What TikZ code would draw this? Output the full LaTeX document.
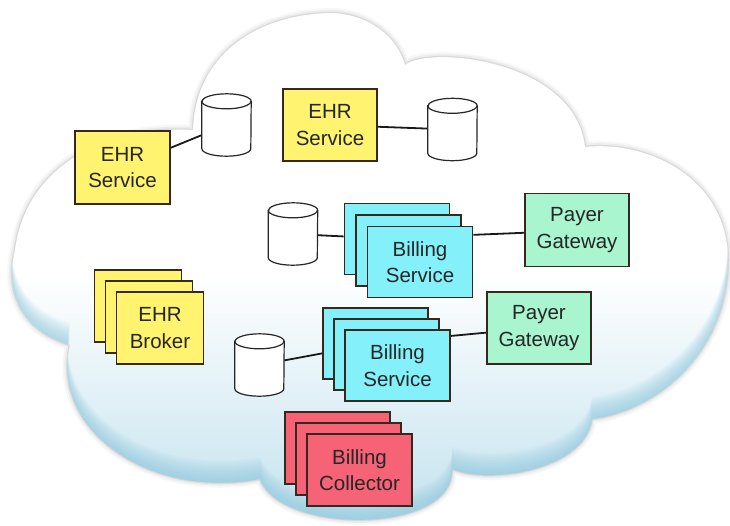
\documentclass[tikz,border=0pt]{standalone}
\usepackage{fontspec}
\setmainfont{Liberation Sans}
\definecolor{ehryellow}{RGB}{255,243,112}
\definecolor{billcyan}{RGB}{132,241,250}
\definecolor{payergreen}{RGB}{168,245,208}
\definecolor{collectred}{RGB}{246,98,118}
\definecolor{boxedge}{RGB}{55,40,30}
\definecolor{cloudblue}{RGB}{140,200,222}
\definecolor{cloudedge}{RGB}{110,110,110}

\newcommand{\cloudpath}{(70,345) .. controls (20,330) and (5,290) .. (15,250)
	.. controls (25,170) and (100,125) .. (193,130)
	.. controls (195,60) and (250,15) .. (330,13)
	.. controls (360,13) and (395,30) .. (405,65)
	.. controls (430,45) and (575,60) .. (585,147)
	.. controls (650,140) and (728,180) .. (728,260)
	.. controls (728,350) and (660,410) .. (592,419)
	.. controls (585,470) and (490,485) .. (452,469)
	.. controls (455,535) and (280,535) .. (260,479)
	.. controls (150,500) and (50,430) .. (70,345) -- cycle}

\tikzset{
	box/.style={draw=boxedge, line width=1.6, align=center, text=black!85,
		font=\fontsize{20.5}{26.5}\selectfont, inner sep=0},
	ehrbox/.style={box, fill=ehryellow, minimum width=95, minimum height=73},
	billbox/.style={box, fill=billcyan, minimum width=105, minimum height=71},
	paybox/.style={box, fill=payergreen, minimum width=104, minimum height=73},
	brokerbox/.style={box, fill=ehryellow, minimum width=87, minimum height=72},
	collbox/.style={box, fill=collectred, minimum width=105, minimum height=72},
	db/.style={minimum width=49, minimum height=62, inner sep=0},
	dbline/.style={draw=black!85, line width=1.2, fill=white},
	link/.style={draw=black!90, line width=1.8}
}

\begin{document}
\begin{tikzpicture}[x=1pt, y=-1pt]
	\useasboundingbox (0,0) rectangle (730,525);
	\fill[white] (0,0) rectangle (730,525);

	% Cloud
	\draw[cloudedge, line width=10, opacity=0.05] \cloudpath;
	\draw[cloudedge, line width=6, opacity=0.08] \cloudpath;
	\draw[cloudedge, line width=2.5, opacity=0.15] \cloudpath;
	\shade[top color=white, bottom color=cloudblue!55, middle color=white] \cloudpath;
	\begin{scope}
		\clip \cloudpath;
		\foreach \k in {2,4,...,22} {
			\begin{scope}[yshift=\k]
				\fill[cloudblue, opacity=0.08, even odd rule] (-50,-50) rectangle (800,600) \cloudpath;
			\end{scope}
		}
	\end{scope}

	% EHR services with their stores
	\node[ehrbox] (ehrA) at (122.5,167.5) {EHR\\Service};
	\node[db] (dbA) at (226.5,125) {};
	\node[ehrbox, minimum width=94, minimum height=72] (ehrB) at (330,125) {EHR\\Service};
	\node[db] (dbB) at (452.5,129.5) {};
	\draw[link] (ehrA) -- (dbA);
	\draw[link] (ehrB) -- (dbB);

	% Billing service, upper
	\node[db] (dbC) at (293,234) {};
	\node[billbox] (billAback) at (397,239) {};
	\node[billbox] (billAmid) at (408.5,250.5) {};
	\node[billbox] (billA) at (420,262) {Billing\\Service};
	\node[paybox] (payA) at (577,230) {Payer\\Gateway};
	\draw[link] (dbC) -- (billAback);
	\draw[link] (billA.27) -- (payA.183);

	% EHR broker
	\node[brokerbox] (brokerback) at (138,306) {};
	\node[brokerbox] (brokermid) at (149,317) {};
	\node[brokerbox] (broker) at (160,328) {EHR\\Broker};

	% Billing service, lower
	\node[db] (dbD) at (259.5,365) {};
	\node[billbox] (billBback) at (375.5,343.5) {};
	\node[billbox] (billBmid) at (386.5,354.5) {};
	\node[billbox] (billB) at (397.5,365.5) {Billing\\Service};
	\node[paybox, minimum height=72] (payB) at (539,328) {Payer\\Gateway};
	\draw[link] (dbD) -- (billBback);
	\draw[link] (billB.29) -- (payB.185);

	% Billing collector
	\node[collbox] (collback) at (337.5,448) {};
	\node[collbox] (collmid) at (348.5,459) {};
	\node[collbox] (coll) at (359.5,470) {Billing\\Collector};

	% Data stores
	\foreach \n in {dbA,dbB,dbC,dbD} {
		\draw[dbline] ([yshift=-7.5pt]\n.north west) -- ([yshift=7.5pt]\n.south west)
			arc[start angle=180, end angle=360, x radius=24.5pt, y radius=7.5pt]
			-- ([yshift=-7.5pt]\n.north east)
			arc[start angle=0, end angle=180, x radius=24.5pt, y radius=7.5pt] -- cycle;
		\draw[dbline, fill=none] ([yshift=-7.5pt]\n.north west)
			arc[start angle=180, end angle=360, x radius=24.5pt, y radius=7.5pt];
	}

\end{tikzpicture}
\end{document}
